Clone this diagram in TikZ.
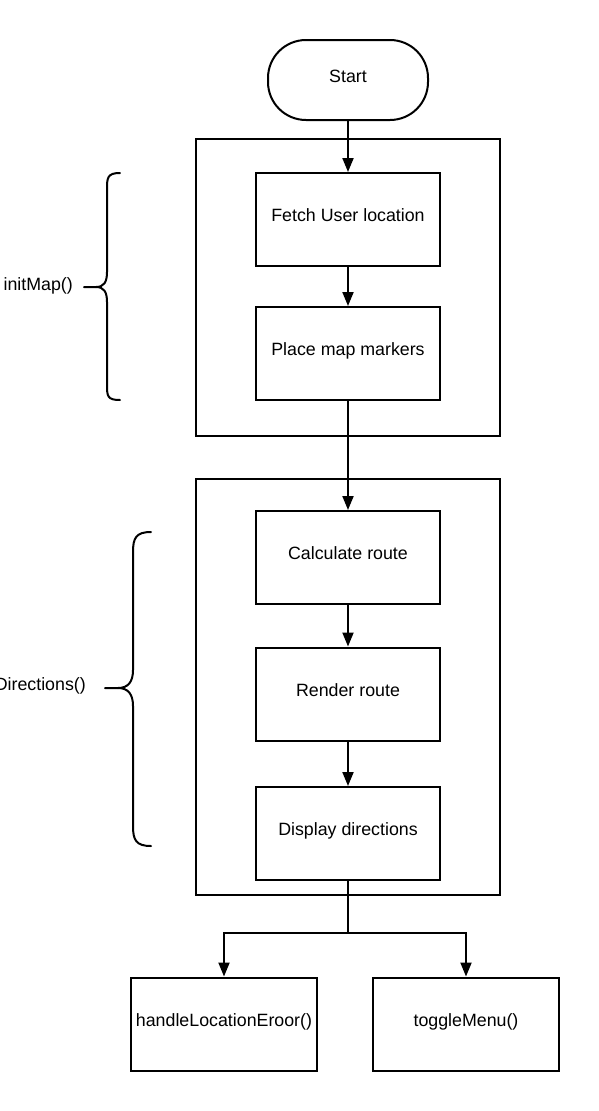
\documentclass[tikz,border=0pt]{standalone}
\usepackage{fontspec}
\setmainfont{Liberation Sans}
\usetikzlibrary{arrows.meta}
\begin{document}
\begin{tikzpicture}[x=1pt,y=-1pt,
  txt/.style={font=\fontsize{17.8}{21}\selectfont,text height=13pt,text depth=9pt},
  box/.style={txt,draw,line width=2pt,minimum width=184pt,minimum height=93pt,inner sep=0pt},
  frame/.style={draw,line width=2pt},
  conn/.style={line width=2pt,-{Triangle[length=14pt,width=11pt]}},
  line/.style={line width=2pt},
  brace/.style={line width=2pt,line cap=round},
  lbl/.style={font=\fontsize{17.8}{21}\selectfont,inner sep=0pt}]
\useasboundingbox (0,0) rectangle (598,1111);
\fill[white] (0,0) rectangle (598,1111);
% frames
\draw[frame] (196,139) rectangle (500,436);
\draw[frame] (196,479) rectangle (500,895);
% start
\node[txt,draw,line width=2pt,rounded corners=38pt,minimum width=160pt,minimum height=80pt,inner sep=0pt] (start) at (348,80) {Start};
\node[box] (fetch) at (348,219.5) {Fetch User location};
\node[box] (place) at (348,353.5) {Place map markers};
\node[box] (calc) at (348,557.5) {Calculate route};
\node[box] (render) at (348,694) {Render route};
\node[box] (disp) at (348,833.5) {Display directions};
\node[box,minimum width=186pt] (err) at (224,1024) {handleLocationEroor()};
\node[box,minimum width=186pt] (menu) at (466,1024) {toggleMenu()};
\coordinate (j) at (348,933);
\draw[conn] (start) -- (fetch);
\draw[conn] (fetch) -- (place);
\draw[conn] (place) -- (calc);
\draw[conn] (calc) -- (render);
\draw[conn] (render) -- (disp);
\draw[line] (disp) -- (j);
\draw[conn] (j) -| (err.north);
\draw[conn] (j) -| (menu.north);
% braces
\draw[brace] (120,173) .. controls (107,173) and (107,178) .. (107,190)
  -- (107,272) .. controls (107,282) and (104,287) .. (96,287) -- (84,287);
\draw[brace] (96,287) .. controls (104,287) and (107,292) .. (107,302)
  -- (107,384) .. controls (107,396) and (107,400) .. (120,400);
\node[lbl,anchor=east] (l1) at (73,286) {initMap()};
\draw[brace] (151,532) .. controls (136,532) and (133,538) .. (133,552)
  -- (133,670) .. controls (133,682) and (128,688) .. (118,688) -- (105,688);
\draw[brace] (118,688) .. controls (128,688) and (133,694) .. (133,706)
  -- (133,826) .. controls (133,840) and (136,846) .. (151,846);
\node[lbl,anchor=east] (l2) at (86,686) {Directions()};
\end{tikzpicture}
\end{document}
